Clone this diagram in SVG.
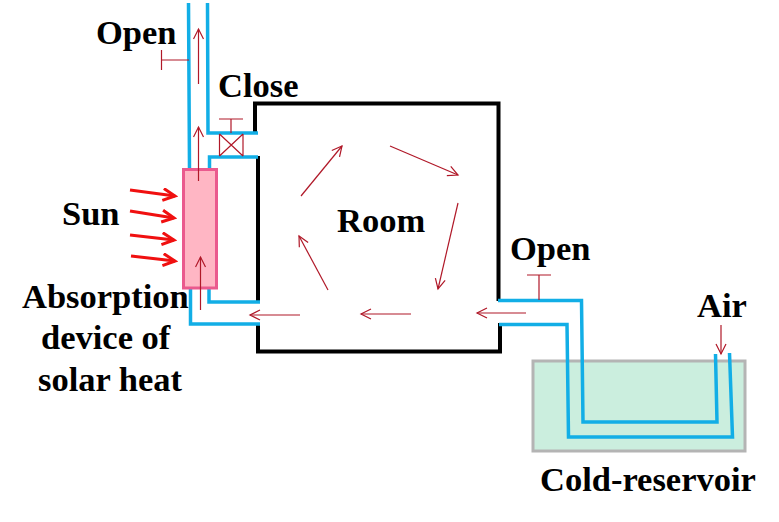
<svg xmlns="http://www.w3.org/2000/svg" width="779" height="522" viewBox="0 0 779 522">
<style>
.t{font-family:"Liberation Serif",serif;font-weight:bold;font-size:34.500px;fill:#000}
.room{fill:none;stroke:#000;stroke-width:4}
.pipe{fill:none;stroke:#12aee6;stroke-width:3.500}
.thin{fill:none;stroke:#b01828;stroke-width:1.200}
.sun{fill:none;stroke:#f01010;stroke-width:3.200}
</style>
<defs>
<marker id="a" markerUnits="userSpaceOnUse" markerWidth="14" markerHeight="14" refX="11" refY="6" orient="auto"><path d="M1 1L11 6L1 11" fill="none" stroke="#b01828" stroke-width="1.200"/></marker>
<marker id="s" markerUnits="userSpaceOnUse" markerWidth="16" markerHeight="16" refX="13" refY="7" orient="auto"><path d="M1 1L13 7L1 13" fill="none" stroke="#f01010" stroke-width="3"/></marker>
</defs>
<g id="reservoir"><rect x="533" y="361" width="212" height="90" fill="#cbeede" stroke="#b4b4b4" stroke-width="3"/></g>
<g id="room-node">
<path class="room" d="M255 134V103.500H498.500V301M258 156V302M258 323V351.500H500V323"/>
<text class="t" x="337" y="232">Room</text>
</g>
<g id="connectors">
<path class="pipe" d="M188.500 3L189.500 170M207.500 3L208 133H258M209.500 170V157H258"/>
<path class="pipe" d="M190.500 288V324H260M209 288V302H260"/>
<path class="pipe" d="M498 300.500H581.500L583 422H717L715.500 354M499 324.500H567L568.500 437H732.500L729.500 353"/>
<path class="thin" d="M189 60H161.500M161.500 50V70M231 133V119M219 119H243"/>
<path class="thin" d="M219.500 134V156M243 134V156M219.500 156L243 134M219.500 134L243 156"/>
<path class="thin" d="M539 300V275M527 275H551"/>
</g>
<g id="absorber"><rect x="183.500" y="169.500" width="33" height="118.500" fill="#ffb6c4" stroke="#ea5a8e" stroke-width="3"/></g>
<g id="flow-arrows">
<path class="thin" marker-end="url(#a)" d="M198.500 84V29"/>
<path class="thin" marker-end="url(#a)" d="M198.500 181V127"/>
<path class="thin" marker-end="url(#a)" d="M200.500 310V257"/>
<path class="thin" marker-end="url(#a)" d="M300 315H250"/>
<path class="thin" marker-end="url(#a)" d="M411 314H361"/>
<path class="thin" marker-end="url(#a)" d="M526 313H477"/>
<path class="thin" marker-end="url(#a)" d="M328 290L299 236"/>
<path class="thin" marker-end="url(#a)" d="M301 196L342 146"/>
<path class="thin" marker-end="url(#a)" d="M390 146L458 175"/>
<path class="thin" marker-end="url(#a)" d="M458 203L438 289"/>
<path class="thin" marker-end="url(#a)" d="M721 325V354"/>
</g>
<g id="sun-arrows">
<path class="sun" marker-end="url(#s)" d="M130 190L175 196"/>
<path class="sun" marker-end="url(#s)" d="M130 211L174 218"/>
<path class="sun" marker-end="url(#s)" d="M130 235L174 240"/>
<path class="sun" marker-end="url(#s)" d="M131 256L175 261"/>
</g>
<g id="labels">
<text class="t" x="96" y="44">Open</text>
<text class="t" x="218" y="97">Close</text>
<text class="t" x="62" y="225">Sun</text>
<text class="t" x="510" y="260">Open</text>
<text class="t" x="697" y="317">Air</text>
<text class="t" x="22" y="308">Absorption</text>
<text class="t" x="41" y="349">device of</text>
<text class="t" x="38" y="391">solar heat</text>
<text class="t" x="540" y="491">Cold-reservoir</text>
</g>
</svg>
